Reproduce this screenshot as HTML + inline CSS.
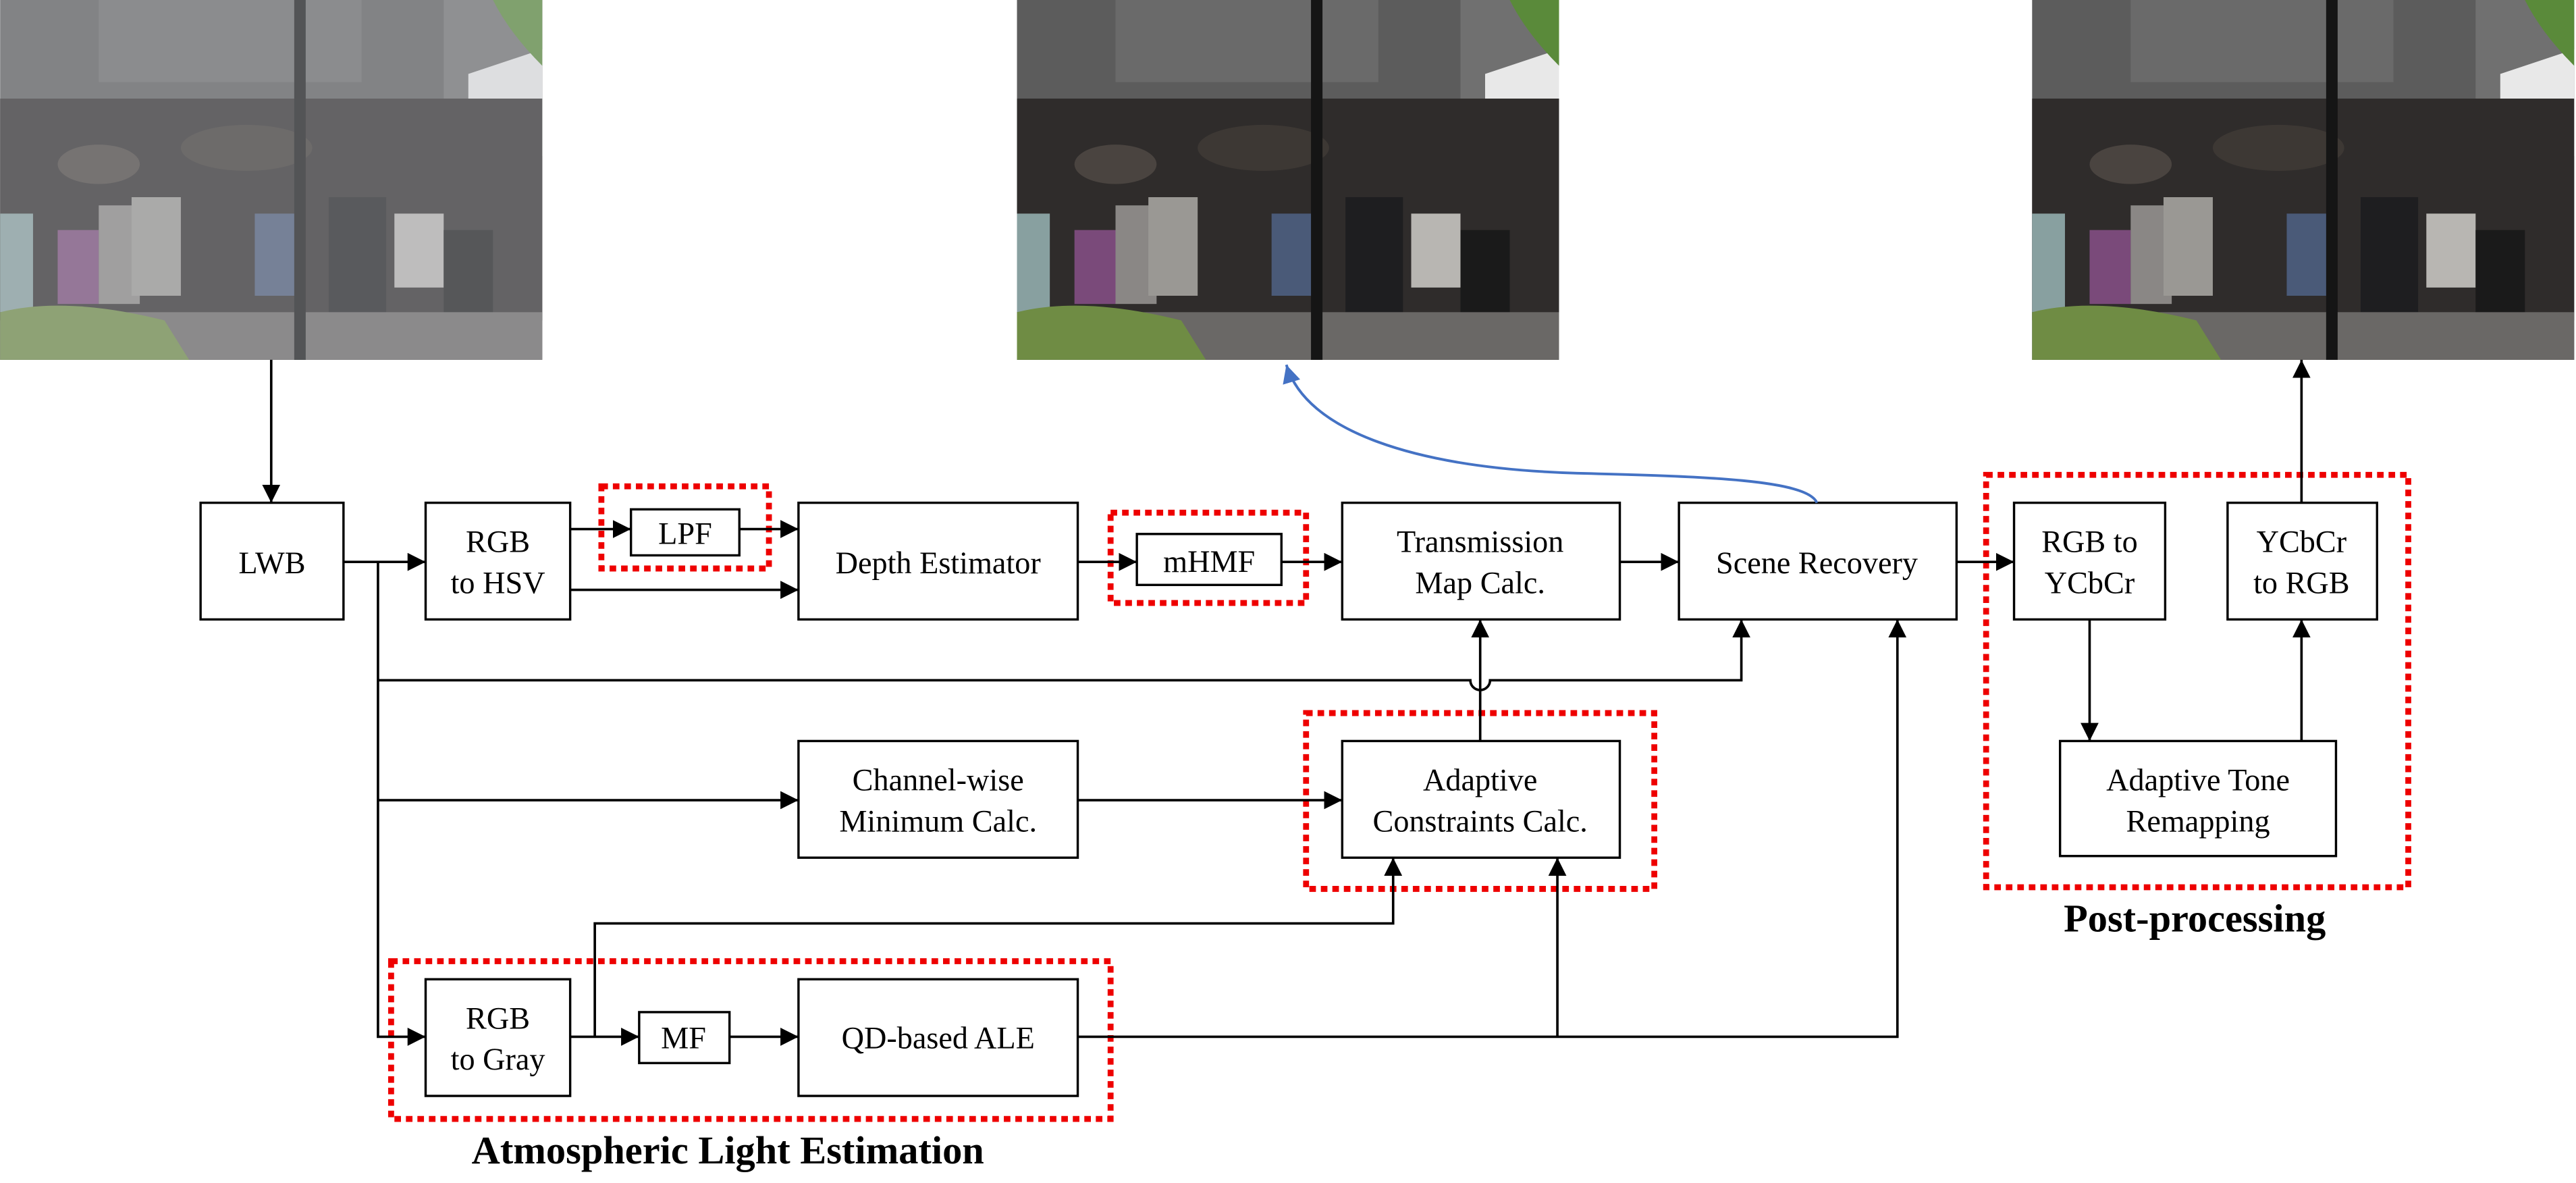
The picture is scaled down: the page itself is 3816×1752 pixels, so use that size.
<!DOCTYPE html>
<html><head><meta charset="utf-8"><style>html,body{margin:0;padding:0;background:#fff}svg{display:block}svg text{font-family:"Liberation Serif","DejaVu Serif",serif}</style></head>
<body>
<svg width="3816" height="1752" viewBox="0 0 1568 720" xmlns="http://www.w3.org/2000/svg">
<defs>
<marker id="ah" viewBox="0 0 10 10" refX="10" refY="5" markerWidth="11" markerHeight="11" markerUnits="userSpaceOnUse" orient="auto"><path d="M0,0 L10,5 L0,10 z" fill="#000"/></marker>
<marker id="bh" viewBox="0 0 10 10" refX="10" refY="5" markerWidth="11" markerHeight="11" markerUnits="userSpaceOnUse" orient="auto"><path d="M0,0 L10,5 L0,10 z" fill="#4472c4"/></marker>
<g id="photo">
<rect x="0" y="0" width="330" height="219" fill="#5c5c5c"/>
<rect x="60" y="0" width="160" height="50" fill="#6a6a6a"/>
<rect x="270" y="0" width="60" height="60" fill="#707070"/>
<path d="M285,45 L330,30 L330,95 L285,95 z" fill="#e8e8e8"/>
<rect x="0" y="60" width="330" height="135" fill="#2f2c2b"/>
<ellipse cx="60" cy="100" rx="25" ry="12" fill="#4a4440"/>
<ellipse cx="150" cy="90" rx="40" ry="14" fill="#3d3834"/>
<rect x="35" y="140" width="25" height="45" fill="#7a4a7a"/>
<rect x="60" y="125" width="25" height="60" fill="#8a8785"/>
<rect x="80" y="120" width="30" height="60" fill="#9a9894"/>
<rect x="155" y="130" width="25" height="50" fill="#4a5a78"/>
<rect x="240" y="130" width="30" height="45" fill="#b8b6b2"/>
<rect x="0" y="130" width="20" height="60" fill="#88a0a0"/>
<rect x="200" y="120" width="35" height="70" fill="#1e1e20"/>
<rect x="270" y="140" width="30" height="60" fill="#1a1a1a"/>
<rect x="0" y="190" width="330" height="29" fill="#6a6866"/>
<path d="M0,190 Q40,180 100,195 L115,219 L0,219 z" fill="#6f8c44"/>
<rect x="179" y="0" width="7" height="219" fill="#151515"/>
<path d="M300,0 L330,0 L330,40 Q310,20 300,0 z" fill="#5a8a3a"/>
</g>
</defs>
<use href="#photo" x="0" y="0"/>
<rect x="0" y="0" width="330" height="219" fill="#c8ccd0" opacity="0.35"/>
<use href="#photo" x="619" y="0"/>
<use href="#photo" x="1237" y="0"/>

<g fill="none" stroke="#000" stroke-width="1.4">
<rect x="122" y="306" width="87" height="71"/>
<rect x="259" y="306" width="88" height="71"/>
<rect x="384" y="310" width="66" height="28"/>
<rect x="486" y="306" width="170" height="71"/>
<rect x="692" y="325" width="88" height="31"/>
<rect x="817" y="306" width="169" height="71"/>
<rect x="1022" y="306" width="169" height="71"/>
<rect x="486" y="451" width="170" height="71"/>
<rect x="817" y="451" width="169" height="71"/>
<rect x="259" y="596" width="88" height="71"/>
<rect x="389" y="616" width="55" height="31"/>
<rect x="486" y="596" width="170" height="71"/>
<rect x="1226" y="306" width="92" height="71"/>
<rect x="1356" y="306" width="91" height="71"/>
<rect x="1254" y="451" width="168" height="70"/>
</g>

<g fill="none" stroke="#ee0000" stroke-width="3.6" stroke-dasharray="4 3">
<rect x="366" y="296" width="102" height="50"/>
<rect x="676" y="312" width="119" height="55"/>
<rect x="795" y="434" width="212" height="107"/>
<rect x="238" y="585" width="438" height="96"/>
<rect x="1209" y="289" width="257" height="251"/>
</g>

<g fill="none" stroke="#000" stroke-width="1.5">
<path d="M165,219 V306" marker-end="url(#ah)"/>
<path d="M209,342 H259" marker-end="url(#ah)"/>
<path d="M230,342 V631 H259" marker-end="url(#ah)"/>
<path d="M230,487 H486" marker-end="url(#ah)"/>
<path d="M230,414 H895 A6,6 0 0 0 907,414 H1060 V377" marker-end="url(#ah)"/>
<path d="M347,322 H384" marker-end="url(#ah)"/>
<path d="M450,322 H486" marker-end="url(#ah)"/>
<path d="M347,359 H486" marker-end="url(#ah)"/>
<path d="M656,342 H692" marker-end="url(#ah)"/>
<path d="M780,342 H817" marker-end="url(#ah)"/>
<path d="M986,342 H1022" marker-end="url(#ah)"/>
<path d="M901,451 V377" marker-end="url(#ah)"/>
<path d="M656,487 H817" marker-end="url(#ah)"/>
<path d="M347,631 H389" marker-end="url(#ah)"/>
<path d="M444,631 H486" marker-end="url(#ah)"/>
<path d="M362,631 V562 H848 V522" marker-end="url(#ah)"/>
<path d="M656,631 H1155 V377" marker-end="url(#ah)"/>
<path d="M948,631 V522" marker-end="url(#ah)"/>
<path d="M1191,342 H1226" marker-end="url(#ah)"/>
<path d="M1272,377 V451" marker-end="url(#ah)"/>
<path d="M1401,451 V377" marker-end="url(#ah)"/>
<path d="M1401,306 V219" marker-end="url(#ah)"/>
</g>
<path d="M1106,306 C1100,292 1040,290 960,288 C860,285 795,262 783,222" fill="none" stroke="#4472c4" stroke-width="1.6" marker-end="url(#bh)"/>

<g font-size="19" text-anchor="middle" fill="#000">
<text x="165.5" y="349">LWB</text>
<text x="303" y="336">RGB</text>
<text x="303" y="361">to HSV</text>
<text x="417" y="331">LPF</text>
<text x="571" y="349">Depth Estimator</text>
<text x="736" y="348">mHMF</text>
<text x="901" y="336">Transmission</text>
<text x="901" y="361">Map Calc.</text>
<text x="1106" y="349">Scene Recovery</text>
<text x="571" y="481">Channel-wise</text>
<text x="571" y="506">Minimum Calc.</text>
<text x="901" y="481">Adaptive</text>
<text x="901" y="506">Constraints Calc.</text>
<text x="303" y="626">RGB</text>
<text x="303" y="651">to Gray</text>
<text x="416" y="638">MF</text>
<text x="571" y="638">QD-based ALE</text>
<text x="1272" y="336">RGB to</text>
<text x="1272" y="361">YCbCr</text>
<text x="1401" y="336">YCbCr</text>
<text x="1401" y="361">to RGB</text>
<text x="1338" y="481">Adaptive Tone</text>
<text x="1338" y="506">Remapping</text>
<text x="443" y="708" font-size="24" font-weight="bold">Atmospheric Light Estimation</text>
<text x="1336" y="567" font-size="24" font-weight="bold">Post-processing</text>
</g>
</svg>
</body></html>
